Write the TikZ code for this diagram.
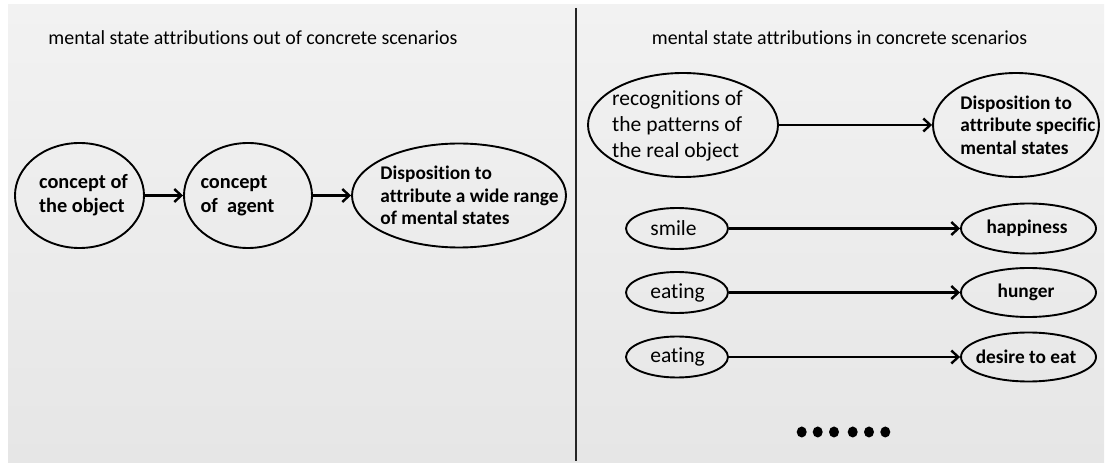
\documentclass[tikz,border=0pt]{standalone}
\usepackage{fontspec}
\setmainfont{Carlito}[Ligatures=NoCommon]
\usetikzlibrary{shapes.geometric,arrows.meta}
\definecolor{bgtop}{HTML}{F2F2F2}
\definecolor{bgbot}{HTML}{E6E6E6}
\tikzset{
  oval/.style={ellipse, draw=black, line width=1.9bp, inner sep=0pt},
  lbl/.style={inner sep=0pt, align=left, text=black},
  ttl/.style={inner sep=0pt, font=\fontsize{20}{24}\selectfont},
  bigb/.style={lbl, font=\fontsize{20.4}{24}\selectfont\bfseries},
  midb/.style={lbl, font=\fontsize{19.4}{22.5}\selectfont\bfseries},
  reg/.style={lbl, font=\fontsize{21.6}{26}\selectfont},
  arr/.style={line width=2.6bp, -{Straight Barb[length=7bp,width=13bp,line width=2.4bp]}},
  dotmark/.style={fill=black, draw=none}
}
\begin{document}
\begin{tikzpicture}[x=1bp,y=-1bp]
\useasboundingbox (0,0) rectangle (1105,463);
\shade[top color=bgtop, bottom color=bgbot] (8,5) rectangle (1104,463);
\coordinate (dtop) at (576,8);
\coordinate (dbot) at (576,461);
\draw[line width=1.1bp, black!85] (dtop) -- (dbot);
% titles
\node[ttl] (t1) at (253,38) {mental state attributions out of concrete scenarios};
\node[ttl] (t2) at (839.5,38) {mental state attributions in concrete scenarios};
% left chain
\node[oval, minimum width=129bp, minimum height=105bp] (a) at (79.5,195.5) {};
\node[oval, minimum width=128bp, minimum height=105bp] (b) at (248,195.5) {};
\node[oval, minimum width=214bp, minimum height=104bp] (c) at (459,195.5) {};
\node[bigb] (at) at (83.5,195.5) {concept of\\the object};
\node[bigb] (bt) at (237.5,195.5) {concept\\of\ \ agent};
\node[midb] (ct) at (469.5,195.5) {Disposition to\\attribute a wide range\\of mental states};
\draw[arr] (a) -- (b);
\draw[arr] (b) -- (c);
% right top
\node[oval, minimum width=190bp, minimum height=104bp] (r1) at (683,125) {};
\node[oval, minimum width=166bp, minimum height=104bp] (r2) at (1016,125) {};
\node[reg] (r1t) at (677.5,126) {recognitions of\\the patterns of\\the real object};
\node[midb] (r2t) at (1028,125) {Disposition to\\attribute specific\\mental states};
\draw[arr] (r1) -- (r2);
% rows
\node[oval, minimum width=102bp, minimum height=41bp] (s1) at (677,228.5) {};
\node[oval, minimum width=135bp, minimum height=50bp] (h1) at (1028.5,228.5) {};
\node[oval, minimum width=102bp, minimum height=41bp] (s2) at (677,292.5) {};
\node[oval, minimum width=135bp, minimum height=49bp] (h2) at (1028.5,292.5) {};
\node[oval, minimum width=102bp, minimum height=41bp] (s3) at (677,357) {};
\node[oval, minimum width=135bp, minimum height=49bp] (h3) at (1028.5,357) {};
\node[reg] (s1t) at (673.5,228.5) {smile};
\node[reg] (s2t) at (677.5,292.5) {eating};
\node[reg] (s3t) at (677.5,357) {eating};
\node[midb] (h1t) at (1027,228.5) {happiness};
\node[midb] (h2t) at (1026,292.5) {hunger};
\node[midb] (h3t) at (1026,357) {desire to eat};
\draw[arr] (s1) -- (h1);
\draw[arr] (s2) -- (h2);
\draw[arr] (s3) -- (h3);
% dots
\foreach \px in {801.7,817.7,834,852.7,869,885.3}
  \fill[dotmark] (\px,432) ellipse [x radius=5bp, y radius=5.5bp];
\end{tikzpicture}
\end{document}
